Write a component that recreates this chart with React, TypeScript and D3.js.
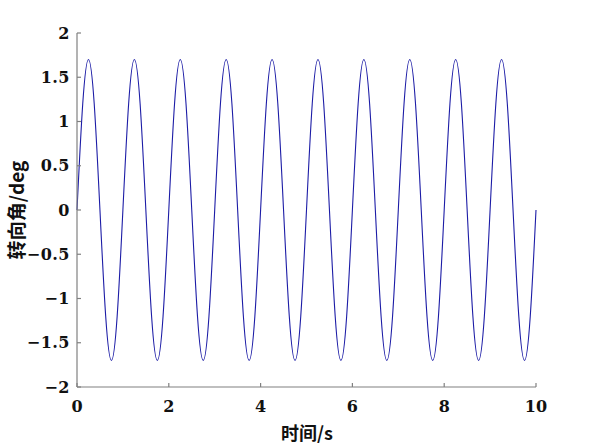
import React from "react";
import * as d3 from "d3";

const timeS: number[] = [
  0, 0.125, 0.25, 0.375, 0.5, 0.625, 0.75, 0.875,
  1, 1.125, 1.25, 1.375, 1.5, 1.625, 1.75, 1.875,
  2, 2.125, 2.25, 2.375, 2.5, 2.625, 2.75, 2.875,
  3, 3.125, 3.25, 3.375, 3.5, 3.625, 3.75, 3.875,
  4, 4.125, 4.25, 4.375, 4.5, 4.625, 4.75, 4.875,
  5, 5.125, 5.25, 5.375, 5.5, 5.625, 5.75, 5.875,
  6, 6.125, 6.25, 6.375, 6.5, 6.625, 6.75, 6.875,
  7, 7.125, 7.25, 7.375, 7.5, 7.625, 7.75, 7.875,
  8, 8.125, 8.25, 8.375, 8.5, 8.625, 8.75, 8.875,
  9, 9.125, 9.25, 9.375, 9.5, 9.625, 9.75, 9.875,
  10,
];

const steerDeg: number[] = [
  0, 1.2, 1.7, 1.2, 0, -1.2, -1.7, -1.2,
  0, 1.2, 1.7, 1.2, 0, -1.2, -1.7, -1.2,
  0, 1.2, 1.7, 1.2, 0, -1.2, -1.7, -1.2,
  0, 1.2, 1.7, 1.2, 0, -1.2, -1.7, -1.2,
  0, 1.2, 1.7, 1.2, 0, -1.2, -1.7, -1.2,
  0, 1.2, 1.7, 1.2, 0, -1.2, -1.7, -1.2,
  0, 1.2, 1.7, 1.2, 0, -1.2, -1.7, -1.2,
  0, 1.2, 1.7, 1.2, 0, -1.2, -1.7, -1.2,
  0, 1.2, 1.7, 1.2, 0, -1.2, -1.7, -1.2,
  0, 1.2, 1.7, 1.2, 0, -1.2, -1.7, -1.2,
  0,
];

const xTicks: number[] = [0, 2, 4, 6, 8, 10];
const yTicks: number[] = [-2, -1.5, -1, -0.5, 0, 0.5, 1, 1.5, 2];
const xLabel = "时间/s";
const yLabel = "转向角/deg";

const W = 592;
const H = 444;
const left = 77;
const right = 536;
const top = 33;
const bottom = 387;

export default function App() {
  const x = d3.scaleLinear().domain([0, 10]).range([left, right]);
  const y = d3.scaleLinear().domain([-2, 2]).range([bottom, top]);
  const pts = timeS.map((t, i) => [t, steerDeg[i]] as [number, number]);
  const line = d3
    .line<[number, number]>()
    .x((d) => x(d[0]))
    .y((d) => y(d[1]))
    .curve(d3.curveNatural);
  const fmt = (v: number) => (v < 0 ? "\u2212" + String(-v) : String(v));
  const tickFont = "DejaVu Serif";
  const cjkFont = "Noto Sans CJK SC";
  return (
    <svg
      width={W}
      height={H}
      style={{ position: "absolute", left: 0, top: 0, background: "#fff" }}
    >
      <rect x={0} y={0} width={W} height={H} fill="#fff" />
      <path d={line(pts) || ""} fill="none" stroke="#1c1ca6" strokeWidth={1.1} />
      <line x1={left} y1={top} x2={left} y2={bottom} stroke="#808080" strokeWidth={1.2} />
      <line x1={left} y1={bottom} x2={right} y2={bottom} stroke="#808080" strokeWidth={1.2} />
      {yTicks.map((v) => (
        <g key={"y" + v}>
          <line x1={left} x2={left + 4} y1={y(v)} y2={y(v)} stroke="#808080" strokeWidth={1.2} />
          <text
            x={left - 7}
            y={y(v)}
            textAnchor="end"
            dominantBaseline="central"
            fontFamily={tickFont}
            fontWeight="bold"
            fontSize={16}
            letterSpacing={0.5}
            fill="#111"
          >
            {fmt(v)}
          </text>
        </g>
      ))}
      {xTicks.map((v) => (
        <g key={"x" + v}>
          <line x1={x(v)} x2={x(v)} y1={bottom} y2={bottom - 4} stroke="#808080" strokeWidth={1.2} />
          <text
            x={x(v)}
            y={406}
            textAnchor="middle"
            dominantBaseline="central"
            fontFamily={tickFont}
            fontWeight="bold"
            fontSize={16}
            fill="#111"
          >
            {fmt(v)}
          </text>
        </g>
      ))}
      <text
        x={307}
        y={432}
        textAnchor="middle"
        dominantBaseline="central"
        fontFamily={cjkFont}
        fontWeight="bold"
        fontSize={18}
        fill="#111"
      >
        {xLabel}
      </text>
      <text
        transform={`translate(15,${210}) rotate(-90)`}
        textAnchor="middle"
        dominantBaseline="central"
        fontFamily={cjkFont}
        fontWeight="bold"
        fontSize={19}
        fill="#111"
      >
        {yLabel}
      </text>
    </svg>
  );
}
